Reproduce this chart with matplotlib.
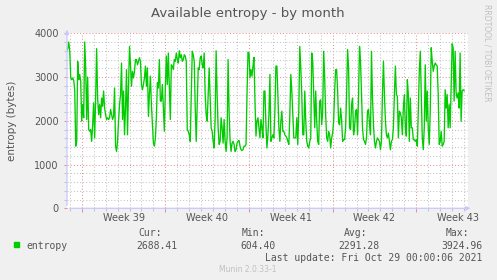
import numpy as np
import matplotlib
matplotlib.use("Agg")
import matplotlib.pyplot as plt
from matplotlib.patches import Rectangle
from matplotlib.ticker import MultipleLocator

# munin "entropy" month graph, one sample every 2 hours
# x axis in days since Mon Sep 27 2021 00:00 (start of week 39)

entropy = [
    3600, 3650, 3800, 3590, 2980, 2940, 2980, 2920, 2710, 1420, 1530, 3360,
    2940, 3060, 2900, 1990, 2370, 2070, 3800, 3210, 2030, 3000, 1800, 1760,
    1800, 1530, 1910, 2410, 1610, 2520, 3650, 2520, 2140, 2370, 2070, 2520,
    2330, 2680, 2290, 2140, 2030, 2070, 2030, 2070, 2260, 2140, 2030, 2100,
    2750, 1420, 1300, 1530, 1990, 2370, 2600, 3320, 2030,
    2680, 1680, 2290, 3170, 1680, 2750, 3700, 3280, 2790, 3130, 2980, 3130,
    3400, 3400, 3280, 3360, 3440, 3360, 2830, 2710, 2830, 2980, 3250, 2790,
    3210, 2100, 2600, 3020, 2370, 1910, 1490, 1420, 1610, 2070, 2870, 2750,
    3400, 2450, 2450, 2830, 2290, 1760, 2750, 3480, 2830, 3550, 2750, 2030,
    3280, 3250, 3170, 3400, 3360, 3550, 3400, 3320, 3600, 3440,
    3510, 3360, 3400, 3510, 3480, 3360, 1800, 1760, 1680, 1530, 2600, 3590,
    3510, 3360, 2290, 1530, 2370, 3210, 3170, 3440, 3480, 3280, 3210, 3550,
    2600, 2140, 1990, 2600, 3210, 2520, 1840, 1760, 1530, 1380, 2070, 3600,
    2600, 1840, 1460, 1530, 2070, 1840, 1490, 2030, 1530, 1300, 1610, 3400,
    2220, 1530, 1300, 1490, 1530, 1460, 1300, 1340, 1490, 1530,
    1550, 1420, 1340, 1320, 1340, 1420, 1420, 1460, 2600, 3570, 3550, 2980,
    3170, 3020, 3250, 3450, 2450, 1650, 1990, 2070, 1840, 1610, 2030, 1840,
    1610, 2680, 2680, 1910, 1380, 1680, 2140, 3060, 1530, 1610, 1680, 1610,
    2220, 3250, 3250, 2600, 1840, 1530, 1990, 2220, 1760, 1760, 1680, 1650,
    1610, 1530, 1460, 2140, 3060, 2680, 2140, 1610, 1610, 1610,
    2070, 1460, 2220, 3700, 3210, 2600, 1680, 1680, 2680, 1990, 1530, 1420,
    1380, 1530, 1610, 3550, 3360, 2600, 1840, 2680, 1990, 1530, 1460, 2450,
    2480, 1910, 2220, 3590, 2980, 2140, 1610, 1530, 1760, 1680, 1380, 1610,
    1720, 1990, 2680, 3170, 3170, 2680, 1950, 1910, 2290, 2030, 1530, 1570,
    1570, 1840, 2600, 3630, 3210, 1840, 1800, 2370, 2520, 1680,
    1840, 2220, 2260, 1680, 2600, 3700, 3360, 2600, 1840, 1570, 1530, 1460,
    1610, 2220, 2260, 1950, 1680, 3590, 2520, 1910, 1530, 1380, 1530, 1610,
    1570, 1530, 1340, 1530, 2600, 3360, 2600, 1990, 1680, 1610, 1720, 1530,
    1340, 1530, 1570, 1840, 2600, 3250, 2600, 2560, 1610, 2220, 2180, 2070,
    1680, 2290, 2600, 1840, 1650, 2940, 2600, 1530, 2520, 1840,
    1840, 1570, 1570, 1530, 1570, 1420, 2220, 3130, 3590, 2600, 1610, 1340,
    1840, 3280, 1990, 2680, 1840, 1460, 2220, 3670, 3360, 3130, 3250, 3320,
    3280, 3250, 2600, 1460, 1530, 1760, 1420, 1460, 1530, 2710, 2290, 2600,
    1840, 2370, 1840, 2750, 3760, 3670, 2450, 3590, 2640, 2520, 2640, 2290,
    3550, 1990, 2680, 2710, 2688,
]
week_nums = [39, 40, 41, 42, 43]
stat_names = ["Cur:", "Min:", "Avg:", "Max:"]
stat_vals = ["2688.41", "604.40", "2291.28", "3924.96"]
last_update = "Last update: Fri Oct 29 00:00:06 2021"

W, H = 497, 280
BG = "#f0f0f0"
TXT = "#555555"
GREEN = "#00cc00"
AXC = "#c8c8ff"
MINOR_C = "#c4c4c4"
MAJOR_C = "#e49494"


def fx(px):
    return px / W


def fy(py):
    return 1 - py / H


n = len(entropy)
t = np.arange(n) / 12.0 + (32 - (n - 1) / 12.0)

fig = plt.figure(figsize=(W / 100, H / 100), dpi=100, facecolor=BG)
ax = fig.add_axes([fx(67), fy(208.3), 401 / W, 175 / H])
ax.set_facecolor("white")

ax.plot(t, entropy, color=GREEN, lw=0.95, zorder=3)

x0 = (67 - 81.7) / 11.95
ax.set_xlim(x0, x0 + 401 / 11.95)
ax.set_ylim(0, 4000)

ax.xaxis.set_major_locator(MultipleLocator(7))
ax.xaxis.set_minor_locator(MultipleLocator(1))
ax.yaxis.set_major_locator(MultipleLocator(1000))
ax.yaxis.set_minor_locator(MultipleLocator(200))
ax.set_xticklabels([])

ax.grid(which="minor", color=MINOR_C, lw=0.75, ls=(0, (1, 2)))
ax.grid(which="major", color=MAJOR_C, lw=0.75, ls=(0, (1, 2)))
ax.set_axisbelow(True)

ax.tick_params(which="major", axis="x", length=3, color=MAJOR_C, width=0.75)
ax.tick_params(which="minor", length=2, color=MINOR_C, width=0.75)
ax.tick_params(which="major", axis="y", length=2, color=MAJOR_C, width=0.75,
               labelsize=7, labelcolor=TXT, pad=4)

for s in ax.spines.values():
    s.set_visible(False)

# axis arrows
ax.annotate("", xy=(1.013, 0), xytext=(0, 0), xycoords="axes fraction",
            arrowprops=dict(arrowstyle="-|>", color=AXC, lw=0.9,
                            mutation_scale=6), annotation_clip=False)
ax.annotate("", xy=(0, 1.036), xytext=(0, 0), xycoords="axes fraction",
            arrowprops=dict(arrowstyle="-|>", color=AXC, lw=0.9,
                            mutation_scale=6), annotation_clip=False)

for i, wk in enumerate(week_nums):
    ax.text(3.5 + 7 * i, -0.025, f"Week {wk}", transform=ax.get_xaxis_transform(),
            ha="center", va="top", fontsize=7, color=TXT)

fig.text(fx(248), fy(14), "Available entropy - by month", ha="center",
         va="center", fontsize=9.5, color=TXT)
fig.text(fx(12), fy(120.6), "entropy (bytes)", rotation=90, ha="center",
         va="center", fontsize=7.5, color=TXT)
fig.text(fx(487), fy(4), "RRDTOOL / TOBI OETIKER", rotation=270, ha="center",
         va="top", fontsize=5.5, color="#c0c0c0")

# legend
fig.patches.append(Rectangle((fx(14), fy(247)), 5.3 / W, 5.3 / H,
                             transform=fig.transFigure, color=GREEN))
mono = "DejaVu Sans Mono"
fig.text(fx(26.7), fy(245.7), "entropy", ha="left", va="center",
         fontsize=7, family=mono, color=TXT)
head_right = [162.3, 265, 367, 469]
val_right = [177.7, 276, 379, 482.7]
for name, val, hr, vr in zip(stat_names, stat_vals, head_right, val_right):
    fig.text(fx(hr), fy(233.3), name, ha="right", va="center",
             fontsize=7, family=mono, color=TXT)
    fig.text(fx(vr), fy(245.7), val, ha="right", va="center",
             fontsize=7, family=mono, color=TXT)
fig.text(fx(482.7), fy(257.7), last_update, ha="right", va="center",
         fontsize=7, family=mono, color=TXT)
fig.text(fx(248), fy(269.3), "Munin 2.0.33-1", ha="center", va="center",
         fontsize=5.5, color="#c0c0c0")

fig.savefig("out.png", dpi=100, facecolor=BG)
